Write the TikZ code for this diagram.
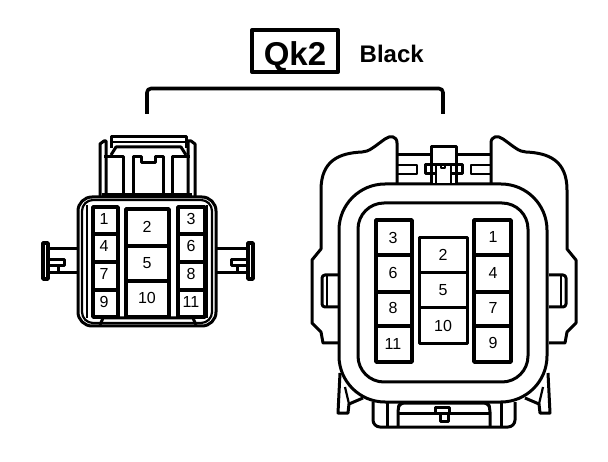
\documentclass[tikz,border=0pt]{standalone}
\usepackage{fontspec}
\setmainfont{Liberation Sans}
\usetikzlibrary{arrows}

\begin{document}
\begin{tikzpicture}[x=1pt, y=-1pt, line join=round]
		\tikzstyle{wire} = [line width=3pt]
		\tikzstyle{thin wire} = [line width=2.2pt]
		\tikzstyle{cell} = [line width=3.4pt]
		\tikzstyle{num} = [inner sep=0pt, font=\fontsize{16}{16}\selectfont]

		\useasboundingbox (0,0) rectangle (608,462);

		% title
		\node[draw, line width=4pt, minimum width=86pt, minimum height=42pt, inner sep=0pt, font=\fontsize{33}{33}\selectfont\bfseries] (qk) at (295,51) {\raisebox{-15pt}[0pt][0pt]{Qk2}};
		\node[right=0pt, inner sep=0pt, font=\fontsize{24}{24}\selectfont\bfseries] (black) at (359.5,53.5) {Black};
		\coordinate (bl) at (147,114);
		\coordinate (br) at (443,114);
		\draw[line width=3.6pt, rounded corners=4pt] (bl) -- (147,88.5) -- (443,88.5) -- (br);

		% left connector
		\begin{scope}
		\draw[wire, rounded corners=14pt] (78,197) rectangle (216,326);
		\draw[thin wire, rounded corners=11pt] (82,200) rectangle (212,323);
		\draw[thin wire] (87,205) -- (87,318) (207,205) -- (207,318);
		\draw[wire] (100,325) -- (103,318) -- (193,318) -- (196,325);

		% latch
		\draw[wire] (100,196) -- (100,144) -- (104,141) -- (106,141) -- (106,196);
		\draw[wire] (195,196) -- (195,144) -- (191,141) -- (188,141) -- (188,196);
		\draw[wire] (111,148) -- (111,137) -- (186,137) -- (186,148);
		\draw[thin wire] (111,142) -- (186,142);
		\draw[wire] (111,155) -- (116,147) -- (181,147) -- (186,155);
		\draw[wire] (104,157) -- (123,157) -- (123,196);
		\draw[wire] (190,157) -- (172,157) -- (172,196);
		\draw[wire] (133,196) -- (133,157) -- (141,157) -- (141,163) -- (155,163) -- (155,157) -- (163,157) -- (163,196);
		\draw[wire] (102,195) -- (192,195);

		% side clips
		\draw[wire] (78,249) -- (50,249) (78,273) -- (50,273);
		\draw[line width=3.4pt] (43,243) rectangle (48,279);
		\draw[wire] (49,260) -- (64,260) -- (64,266) -- (49,266) (58,266) -- (58,273);
		\draw[wire] (216,249) -- (246,249) (216,273) -- (246,273);
		\draw[line width=3.4pt] (248,243) rectangle (253,279);
		\draw[wire] (247,260) -- (231,260) -- (231,266) -- (247,266) (237,266) -- (237,273);

		% cells
		\foreach \ya/\yb in {207/234, 234/262, 262/290, 290/317}
			{
			\draw[cell] (93,\ya) rectangle (118,\yb);
			\draw[cell] (178,\ya) rectangle (205,\yb);
			}
		\foreach \ya/\yb in {209/246, 246/281, 281/317}
			\draw[cell] (126,\ya) rectangle (169,\yb);

		\node[num] (la) at (104,219) {1};
		\node[num] (lb) at (104,246) {4};
		\node[num] (lc) at (104,274) {7};
		\node[num] (ld) at (104,302) {9};
		\node[num] (le) at (147,227) {2};
		\node[num] (lf) at (147,263) {5};
		\node[num] (lg) at (147,298) {10};
		\node[num] (lh) at (191,219) {3};
		\node[num] (li) at (191,246) {6};
		\node[num] (lj) at (191,274) {8};
		\node[num] (lk) at (191,302) {11};
		\end{scope}

		% right connector
		\begin{scope}
		\draw[wire, rounded corners=46pt] (339,184) rectangle (547,402);
		\draw[wire, rounded corners=26pt] (358,203) rectangle (528,382);

		% shell, both halves
		\foreach \mx/\sx in {0/1, 888/-1}
			{
			\begin{scope}[xshift=\mx pt, xscale=\sx]
			\draw[wire] (397,183) -- (397,143) .. controls (397,136) and (390,135) .. (385,139)
				.. controls (375,146) and (369,152) .. (362,152)
				.. controls (340,153) and (321,160) .. (321,190)
				-- (321,249) -- (312,260) -- (312,323) -- (321,332) -- (323,343) -- (339,343);
			\draw[wire, rounded corners=3pt] (339,275) -- (322,275) -- (322,307) -- (339,307);
			\draw[thin wire] (327,276) -- (327,306);
			\draw[wire] (340,373) -- (338,413) -- (348,413) -- (349,404) -- (363,398);
			\draw[thin wire] (345,387) -- (349,404);
			\draw[wire, rounded corners=7pt] (373,402) -- (373,427) -- (444,427);
			\draw[wire] (387,402) -- (387,427);
			\draw[wire, rounded corners=4pt] (444,403) -- (400,403) -- (398,408) -- (398,427);
			\draw[wire] (397,155) -- (444,155);
			\draw[thin wire] (397,165) -- (417,165) -- (417,174) -- (397,174);
			\end{scope}
			}
		\draw[wire] (398,413) -- (490,413);
		\draw[wire, fill=white] (431,183) -- (431,147) -- (456,147) -- (456,183);
		\draw[wire] (425,165) rectangle (462,174);
		\draw[thin wire, fill=white] (436,183) -- (436,165) -- (441,165) -- (441,168) -- (445,168) -- (445,165) -- (451,165) -- (451,183);
		\draw[wire, fill=white] (435,407) rectangle (449,413);
		\draw[wire, fill=white] (440,413) rectangle (448,421);

		% cells
		\foreach \ya/\yb in {220/255, 255/292, 292/326, 326/362}
			{
			\draw[cell] (376,\ya) rectangle (412,\yb);
			\draw[cell] (474,\ya) rectangle (511,\yb);
			}
		\foreach \ya/\yb in {238/273, 273/308, 308/344}
			\draw[wire] (419,\ya) rectangle (467,\yb);

		\node[num] (ra) at (393,238) {3};
		\node[num] (rb) at (393,273) {6};
		\node[num] (rc) at (393,308) {8};
		\node[num] (rd) at (393,344) {11};
		\node[num] (re) at (443,255) {2};
		\node[num] (rf) at (443,290) {5};
		\node[num] (rg) at (443,326) {10};
		\node[num] (rh) at (493,237) {1};
		\node[num] (ri) at (493,273) {4};
		\node[num] (rj) at (493,308) {7};
		\node[num] (rk) at (493,343) {9};
		\end{scope}
		\end{tikzpicture}
\end{document}
